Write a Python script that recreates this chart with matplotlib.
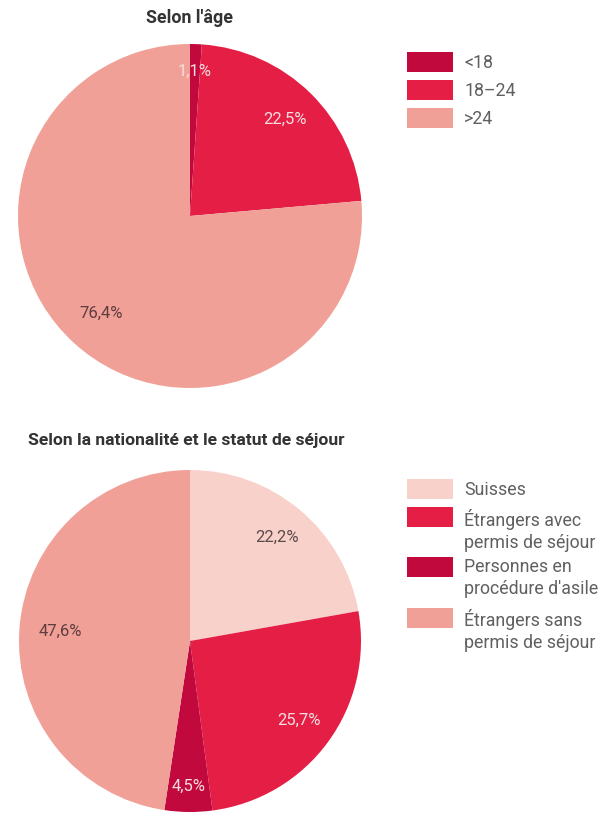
import numpy as np
import matplotlib
matplotlib.use("Agg")
import matplotlib.pyplot as plt
from matplotlib.patches import Rectangle

# ---- data ----
age_labels = ["<18", "18–24", ">24"]
age_values = [1.1, 22.5, 76.4]
age_colors = ["#C2093E", "#E41E45", "#F0A097"]
age_text_colors = ["#F7DDE0", "#F7DDE0", "#5E3D3F"]
age_pct_dist = [0.84, 0.79, 0.765]

nat_labels = ["Suisses", "Étrangers avec\npermis de séjour",
              "Personnes en\nprocédure d'asile", "Étrangers sans\npermis de séjour"]
nat_values = [22.2, 25.7, 4.5, 47.6]
nat_colors = ["#F8D1CA", "#E41E45", "#C2093E", "#F0A097"]
nat_text_colors = ["#5E4A4A", "#F7DDE0", "#F7DDE0", "#5E3D3F"]
nat_pct_dist = [0.79, 0.79, 0.85, 0.76]

W, H = 599, 813
fig = plt.figure(figsize=(W / 100, H / 100), dpi=100)
FONT = "Roboto"


def fmt(v):
    return f"{v:.1f}".replace(".", ",") + "%"


def draw_pie(cx, cy, r, values, colors, tcolors, dists):
    ax = fig.add_axes([(cx - r) / W, 1 - (cy + r) / H, 2 * r / W, 2 * r / H])
    wedges, _ = ax.pie(values, colors=colors, startangle=90, counterclock=False,
                       radius=1, wedgeprops=dict(linewidth=0))
    for w, v, tc, d in zip(wedges, values, tcolors, dists):
        mid = np.deg2rad((w.theta1 + w.theta2) / 2)
        ax.text(d * np.cos(mid), d * np.sin(mid), fmt(v), ha="center", va="center",
                fontsize=12, color=tc, family=FONT, fontweight="normal")
    ax.set_xlim(-1, 1)
    ax.set_ylim(-1, 1)
    ax.set_aspect("equal")
    ax.axis("off")
    return ax


def draw_legend(x, ys, labels, colors, text_tops):
    for y, lab, col, ty in zip(ys, labels, colors, text_tops):
        fig.patches.append(Rectangle((x / W, 1 - (y + 20) / H), 46 / W, 20 / H,
                                     transform=fig.transFigure, color=col, linewidth=0))
        fig.text((x + 57) / W, 1 - ty / H, lab, ha="left", va="top",
                 fontsize=12.8, color="#606060", family=FONT, fontweight="normal",
                 linespacing=1.28)


# top chart
fig.text(190 / W, 1 - 18 / H, "Selon l'âge", ha="center", va="center",
         fontsize=12.8, fontweight="bold", color="#333333", family=FONT)
draw_pie(190, 216, 172, age_values, age_colors, age_text_colors, age_pct_dist)
draw_legend(407, [52, 80, 108], age_labels, age_colors, [54, 82, 110])

# bottom chart
fig.text(186 / W, 1 - 440 / H, "Selon la nationalité et le statut de séjour",
         ha="center", va="center", fontsize=12.6, fontweight="bold",
         color="#333333", family=FONT)
draw_pie(190, 641, 171, nat_values, nat_colors, nat_text_colors, nat_pct_dist)
draw_legend(407, [479, 507, 557, 608], nat_labels, nat_colors, [481, 509, 558, 609])

fig.savefig("out.png", dpi=100, facecolor="white")
